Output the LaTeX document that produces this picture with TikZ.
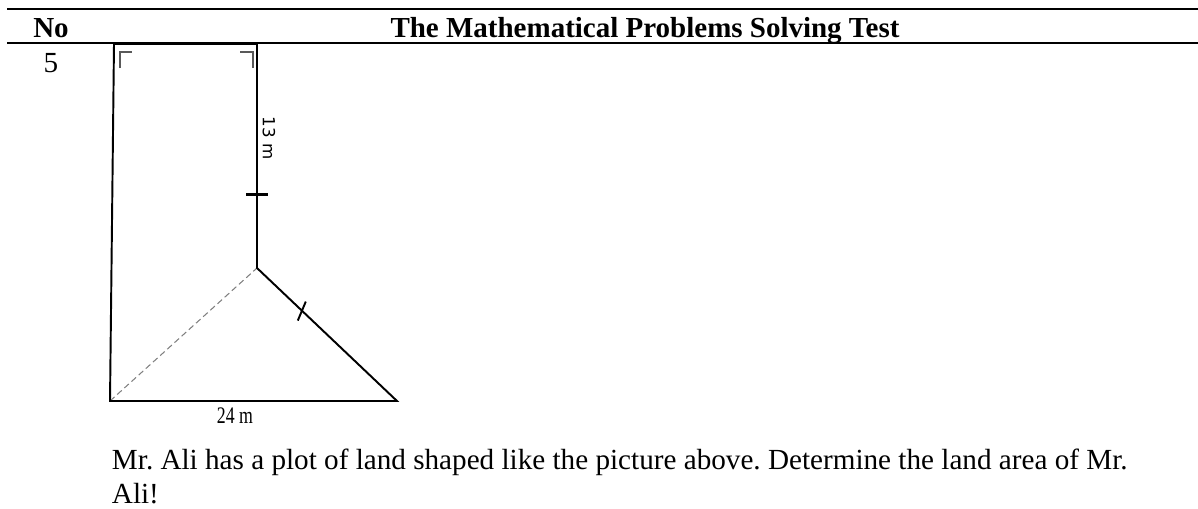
\documentclass[tikz,border=0pt]{standalone}
\usepackage{fontspec}
\setmainfont{Liberation Serif}
\newfontfamily\dimsans{DejaVu Sans}
\usetikzlibrary{calc}
\frenchspacing
\tikzset{
  every picture/.style={line width=1.1pt},
  rule/.style={line width=1.3pt},
  edge/.style={draw=black, line width=1.1pt, line join=miter},
  hidden/.style={draw=gray, line width=0.6pt, dash pattern=on 3.5pt off 2pt},
  corner/.style={draw=gray!70!black, line width=0.9pt},
  tickmark/.style={draw=black, line width=1.7pt},
  head/.style={font=\fontsize{16.5}{19}\selectfont\bfseries, inner sep=0pt, anchor=base},
  body/.style={font=\fontsize{16.6}{18.8}\selectfont, inner sep=0pt, align=left},
  dim/.style={font=\fontsize{13.5}{15}\selectfont, inner sep=0pt},
}
\begin{document}
\begin{tikzpicture}[x=0.02cm, y=-0.02cm]
  \useasboundingbox (0,0) rectangle (1198,508);
  % table header rules
  \coordinate (topw) at (7,9);    \coordinate (tope) at (1198,9);
  \coordinate (midw) at (7,43);   \coordinate (mide) at (1198,43);
  \draw[rule] (topw) -- (tope);
  \draw[rule] (midw) -- (mide);
  \node[head] (no) at (51,37) {No};
  \node[head] (title) at (645,37) {The Mathematical Problems Solving Test};
  \node[body, anchor=base] (num) at (51,72) {5};
  % the plot of land
  \coordinate (A) at (114,44);
  \coordinate (B) at (257,44);
  \coordinate (C) at (257,268);
  \coordinate (D) at (397,401);
  \coordinate (E) at (110,401);
  \draw[hidden] (E) -- (C);
  \draw[edge] (C) -- (B) -- (A) -- (E) -- (D) -- cycle;
  % right angle marks
  \draw[corner] (120,68) -- (120,52) -- (132,52);
  \draw[corner] (240,52) -- (253,52) -- (253,68);
  % equal length ticks
  \coordinate (tv) at ($(B)!0.67!(C)$);
  \draw[tickmark] ($(tv)+(-11,0)$) -- ($(tv)+(11,0)$);
  \coordinate (td) at ($(C)!0.32!(D)$);
  \draw[line width=1.1pt] ($(td)+(-4,10)$) -- ($(td)+(4,-9)$);
  \node[inner sep=0pt, font=\dimsans\fontsize{9.5}{10}\selectfont, rotate=-90] (side) at (269,138) {13 m};
  \node[dim, anchor=base, xscale=0.75] (base) at (235,423) {24 m};
  % question text
  \node[body, anchor=base west] (question) at (111,503)
    {Mr. Ali has a plot of land shaped like the picture above. Determine the land area of Mr.\\Ali!};
\end{tikzpicture}
\end{document}
